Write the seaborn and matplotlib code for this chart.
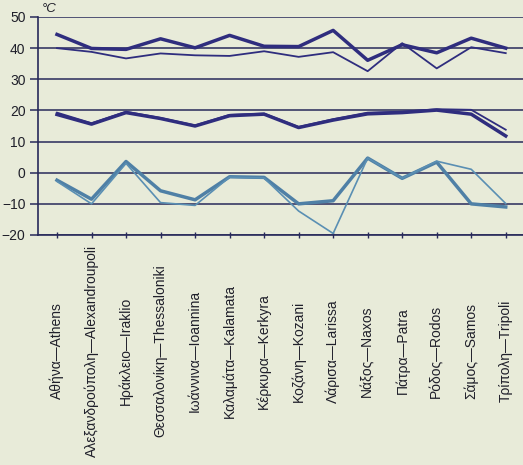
import numpy as np
import pandas as pd
import seaborn as sns
import matplotlib.pyplot as plt

cities = ['Αθήνα—Athens', 'Αλεξανδρούπολη—Alexandroupoli', 'Ηράκλειο—Iraklio',
          'Θεσσαλονίκη—Thessaloniki', 'Ιωάννινα—Ioannina', 'Καλαμάτα—Kalamata',
          'Κέρκυρα—Kerkyra', 'Κοζάνη—Kozani', 'Λάρισα—Larissa', 'Νάξος—Naxos',
          'Πάτρα—Patra', 'Ρόδος—Rodos', 'Σάμος—Samos', 'Τρίπολη—Tripoli']

max_a = [44.4, 39.9, 39.6, 43.0, 40.1, 44.1, 40.6, 40.5, 45.7, 36.1, 41.1, 38.5, 43.2, 40.0]
max_b = [40.0, 38.8, 36.7, 38.3, 37.7, 37.5, 39.0, 37.2, 38.7, 32.6, 41.6, 33.5, 40.3, 38.4]
mid_a = [18.7, 15.6, 19.3, 17.4, 15.0, 18.3, 18.8, 14.5, 16.9, 18.9, 19.3, 20.1, 18.8, 11.8]
mid_b = [19.3, 15.9, 19.6, 17.6, 15.2, 18.6, 19.0, 14.7, 17.2, 19.3, 19.6, 20.4, 20.2, 13.8]
min_a = [-2.4, -8.5, 3.6, -5.8, -8.7, -1.3, -1.5, -10.0, -9.0, 4.7, -1.8, 3.4, -10.0, -11.0]
min_b = [-2.8, -10.0, 3.0, -9.6, -10.5, -1.4, -1.7, -12.3, -19.5, 4.7, -1.8, 3.7, 1.1, -9.9]

series = {'max_a': max_a, 'max_b': max_b, 'mid_a': mid_a,
          'mid_b': mid_b, 'min_a': min_a, 'min_b': min_b}

navy = '#2f2d7e'
steel = '#4f80a6'
palette = {'max_a': navy, 'max_b': navy, 'mid_a': navy, 'mid_b': navy,
           'min_a': steel, 'min_b': '#5a8fb3'}
sizes = {'max_a': 2.5, 'max_b': 1.3, 'mid_a': 2.5, 'mid_b': 1.3,
         'min_a': 2.5, 'min_b': 1.2}

rows = []
for name, vals in series.items():
    for i, v in enumerate(vals):
        rows.append({'pos': i, 'temp': v, 'series': name})
df = pd.DataFrame(rows)

bg = '#e8ebd9'
fig = plt.figure(figsize=(5.23, 4.65), dpi=100, facecolor=bg)
ax = fig.add_axes([38 / 523, 230 / 465, 1 - 38 / 523, 218 / 465])
ax.set_facecolor(bg)

grid_col = '#27295a'
for yv in range(-20, 51, 10):
    ax.axhline(yv, color=grid_col, lw=1.1, zorder=1)

sns.lineplot(data=df, x='pos', y='temp', hue='series', size='series',
             palette=palette, sizes=sizes, estimator=None, sort=False,
             legend=False, ax=ax, zorder=3)

ax.set_xlim(-0.55, 13.5)
ax.set_ylim(-20, 50)
ax.set_yticks(range(-20, 51, 10))
ax.set_xticks(np.arange(len(cities)))
ax.set_xticklabels(cities, rotation=90, rotation_mode='anchor',
                   ha='center', va='center', fontsize=10,
                   family=['Liberation Sans', 'DejaVu Sans'], color='#1f1f2a')
ax.tick_params(axis='x', direction='inout', length=5, width=1,
               color=grid_col, pad=81)
ax.tick_params(axis='y', direction='out', length=6, width=1.1,
               color=grid_col, pad=3, labelsize=10, labelcolor='#1f1f2a')
for lab in ax.get_yticklabels():
    lab.set_family(['Liberation Sans', 'DejaVu Sans'])

ax.set_xlabel('')
ax.set_ylabel('')
for side in ['top', 'right']:
    ax.spines[side].set_visible(False)
ax.spines['left'].set_color(grid_col)
ax.spines['bottom'].set_color(grid_col)
ax.spines['left'].set_linewidth(1.2)
ax.spines['bottom'].set_linewidth(1.2)

ax.text(0.008, 1.008, '°C', transform=ax.transAxes, ha='left', va='bottom',
        fontsize=9.5, style='italic', color='#1f1f2a',
        family=['Liberation Sans', 'DejaVu Sans'])

fig.savefig('out.png', dpi=100, facecolor=bg)
